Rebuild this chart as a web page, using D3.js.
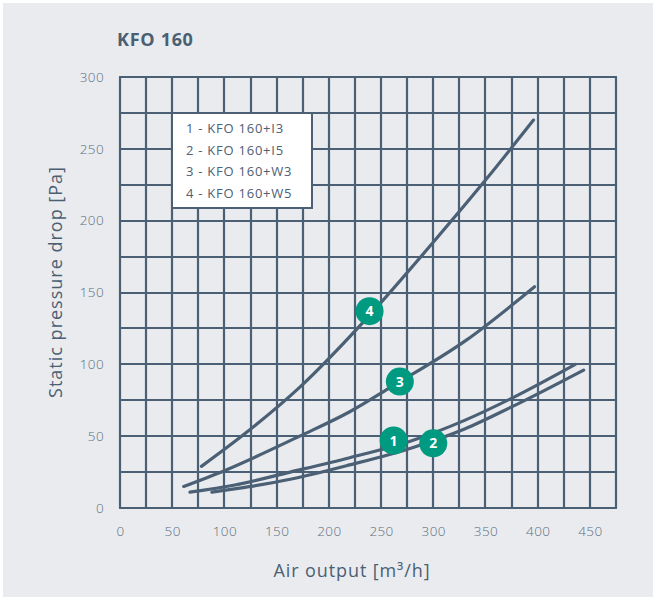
<!DOCTYPE html>
<html>
<head>
<meta charset="utf-8">
<script src="https://cdn.jsdelivr.net/npm/d3@7/dist/d3.min.js"></script>
<style>
  html, body { margin: 0; padding: 0; background: #ffffff; }
  svg { display: block; }
</style>
</head>
<body>
<script>
const chartTitle = "KFO 160";
const xTicks = [0, 50, 100, 150, 200, 250, 300, 350, 400, 450];
const yTicks = [0, 50, 100, 150, 200, 250, 300];
const seriesNames = ["1 - KFO 160+I3", "2 - KFO 160+I5", "3 - KFO 160+W3", "4 - KFO 160+W5"];
const seriesIds = ["1", "2", "3", "4"];
// [air output m3/h, static pressure Pa]
const curve1 = [[67, 11], [110, 16], [163, 25], [220, 35], [280, 47], [330, 61], [374, 76], [436, 100]];
const curve2 = [[88, 11], [125, 15], [163, 20], [220, 30], [280, 42], [330, 55], [374, 70], [444, 96]];
const curve3 = [[61, 15], [100, 26], [172, 50], [220, 67], [259, 84], [332, 117], [397, 154]];
const curve4 = [[78, 29], [120, 52], [172, 84], [240, 135], [300, 185], [352, 230], [396, 270]];
const markerX = [262, 300, 268, 239];
const markerY = [47, 45, 88, 137];

const W = 656, H = 600;
const ink = "#4b6075";
const bg = "#e9ebef";
const teal = "#009a80";
const font = "'Open Sans', 'Noto Sans', sans-serif";

const svg = d3.select("body").append("svg").attr("width", W).attr("height", H);
svg.append("rect").attr("x", 3).attr("y", 3).attr("width", W - 6).attr("height", H - 6).attr("fill", bg);

const x = d3.scaleLinear().domain([0, 475]).range([120, 616]);
const y = d3.scaleLinear().domain([0, 300]).range([508, 77]);

// grid
const g = svg.append("g");
g.selectAll("line.v").data(d3.range(0, 476, 25)).join("line")
  .attr("x1", d => Math.round(x(d))).attr("x2", d => Math.round(x(d)))
  .attr("y1", y(0)).attr("y2", y(300))
  .attr("stroke", ink).attr("stroke-width", 2.2);
g.selectAll("line.h").data(d3.range(0, 301, 25)).join("line")
  .attr("x1", x(0) - 1).attr("x2", x(475) + 1)
  .attr("y1", d => Math.round(y(d))).attr("y2", d => Math.round(y(d)))
  .attr("stroke", ink).attr("stroke-width", 2.2);

// axes tick labels
const xAxis = d3.axisBottom(x).tickValues(xTicks).tickSize(0).tickPadding(0);
const xa = svg.append("g").attr("transform", "translate(0,536)").call(xAxis);
xa.select(".domain").remove();
xa.selectAll("text").attr("dy", 0).attr("font-family", font).attr("font-size", 13.5)
  .attr("fill", "#5c6e80").attr("font-weight", 300).attr("letter-spacing", 0.4);

const yAxis = d3.axisLeft(y).tickValues(yTicks).tickSize(0).tickPadding(0);
const ya = svg.append("g").attr("transform", "translate(104,0)").call(yAxis);
ya.select(".domain").remove();
ya.selectAll("text").attr("font-family", font).attr("font-size", 13.5)
  .attr("fill", "#5c6e80").attr("font-weight", 300).attr("letter-spacing", 0.4);

// title
svg.append("text").attr("x", 117).attr("y", 46).text(chartTitle)
  .attr("font-family", font).attr("font-size", 18).attr("font-weight", 700).attr("fill", "#4b5f73")
  .attr("letter-spacing", 0.7);

// axis titles
svg.append("text").attr("x", 352).attr("y", 577).attr("text-anchor", "middle")
  .attr("font-family", font).attr("font-size", 18).attr("fill", "#4b5f73")
  .attr("letter-spacing", 0.9)
  .text("Air output [m³/h]");
svg.append("text").attr("transform", "translate(62,282) rotate(-90)").attr("text-anchor", "middle")
  .attr("font-family", font).attr("font-size", 18).attr("fill", "#4b5f73")
  .attr("letter-spacing", 1)
  .text("Static pressure drop [Pa]");

// legend
const lg = svg.append("g");
lg.append("rect").attr("x", 172).attr("y", 113).attr("width", 140).attr("height", 95)
  .attr("fill", "#ffffff").attr("stroke", ink).attr("stroke-width", 2);
lg.selectAll("text").data(seriesNames).join("text")
  .attr("x", 186).attr("y", (d, i) => 133 + i * 21.5)
  .attr("font-family", font).attr("font-size", 13).attr("fill", "#4d6074")
  .attr("letter-spacing", 0.75)
  .text(d => d);

// curves
const line = d3.line().x(d => x(d[0])).y(d => y(d[1])).curve(d3.curveMonotoneX);
svg.append("g").selectAll("path").data([curve1, curve2, curve3, curve4]).join("path")
  .attr("d", line).attr("fill", "none").attr("stroke", ink).attr("stroke-width", 3.2)
  .attr("stroke-linecap", "round");

// markers
const mk = svg.append("g").selectAll("g").data(seriesIds).join("g")
  .attr("transform", (d, i) => `translate(${x(markerX[i])},${y(markerY[i])})`);
mk.append("circle").attr("r", 14).attr("fill", teal);
mk.append("text").attr("text-anchor", "middle").attr("dy", "0.36em")
  .attr("font-family", font).attr("font-size", 14).attr("font-weight", 700).attr("fill", "#ffffff")
  .text(d => d);
</script>
</body>
</html>
